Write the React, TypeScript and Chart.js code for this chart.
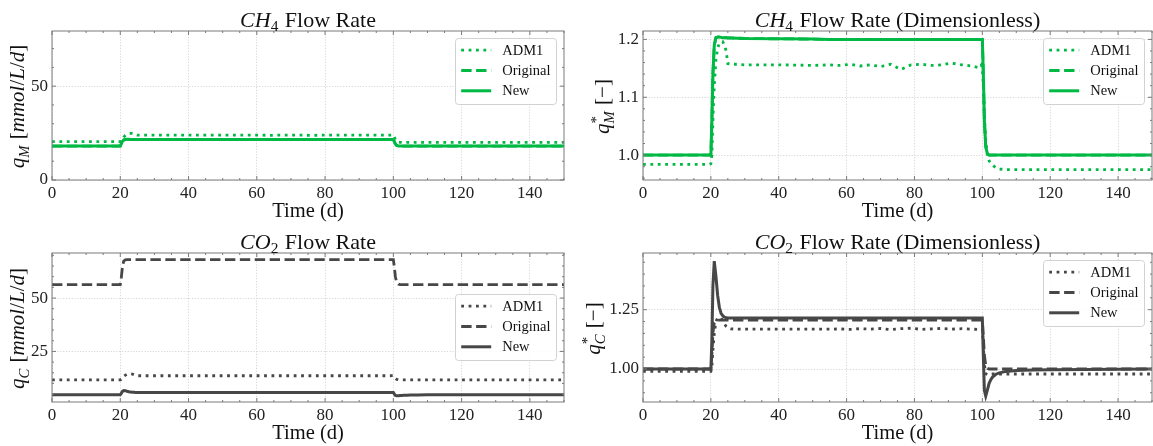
import React, { useEffect, useRef } from 'react';
import { Chart, registerables } from 'chart.js';

Chart.register(...registerables);

const FONT = "'Liberation Serif', 'Times New Roman', serif";
const GREEN = '#00B945';
const DARK = '#474747';

// time axis (days)
const TIME = [
  0, 10, 19.5, 20,
  20.3, 20.6, 21, 21.5, 22, 22.5, 23, 23.5, 24, 24.5, 25,
  26, 28, 30, 40, 50,
  55, 58, 61, 64, 67, 70, 73, 76, 79, 82, 85, 88, 91, 94, 97,
  99, 99.7, 100, 100.3, 100.6, 101, 101.5, 102, 102.5, 103,
  104, 105, 107, 110, 115, 120, 130, 140, 150,
];

// CH4 flow rate [mmol/L/d]
const ch4Adm1 = [
  20.4, 20.4, 20.4, 20.4,
  20.6, 21.5, 22.8, 23.8, 24.4, 24.7, 24.8, 24.8, 24.6, 24.2, 23.9,
  23.9, 23.9, 23.9, 23.9, 23.9,
  23.9, 23.9, 23.9, 23.8, 23.9, 23.9, 23.9, 23.8, 23.9, 23.9, 23.9, 23.9, 23.9, 23.9, 23.9,
  23.9, 24.0, 24.1, 23.0, 21.6, 20.6, 20.2, 20.1, 20.0, 20.0,
  20.0, 20.0, 20.0, 20.0, 20.0, 20.0, 20.0, 20.0, 20.0,
];
const ch4New = [
  18.1, 18.1, 18.1, 18.1,
  19.2, 20.5, 21.3, 21.6, 21.65, 21.65, 21.6, 21.6, 21.6, 21.6, 21.6,
  21.6, 21.6, 21.6, 21.6, 21.6,
  21.6, 21.6, 21.6, 21.6, 21.6, 21.6, 21.6, 21.6, 21.6, 21.6, 21.6, 21.6, 21.6, 21.6, 21.6,
  21.6, 21.6, 21.6, 20.5, 19.2, 18.4, 18.15, 18.1, 18.1, 18.1,
  18.1, 18.1, 18.1, 18.1, 18.1, 18.1, 18.1, 18.1, 18.1,
];
const ch4Original = [
  18.1, 18.1, 18.1, 18.1,
  19.2, 20.5, 21.3, 21.6, 21.65, 21.65, 21.6, 21.6, 21.6, 21.6, 21.6,
  21.6, 21.6, 21.6, 21.6, 21.6,
  21.6, 21.6, 21.6, 21.6, 21.6, 21.6, 21.6, 21.6, 21.6, 21.6, 21.6, 21.6, 21.6, 21.6, 21.6,
  21.6, 21.6, 21.6, 20.5, 19.2, 18.4, 18.15, 18.1, 18.1, 18.1,
  18.1, 18.1, 18.1, 18.1, 18.1, 18.1, 18.1, 18.1, 18.1,
];

// CH4 flow rate, dimensionless
const ch4Adm1Dim = [
  0.984, 0.984, 0.984, 0.985,
  1.0, 1.06, 1.12, 1.165, 1.185, 1.193, 1.196, 1.196, 1.19, 1.18, 1.158,
  1.157, 1.157, 1.156, 1.156, 1.155,
  1.156, 1.155, 1.157, 1.154, 1.156, 1.153, 1.157, 1.148, 1.156, 1.157, 1.155, 1.156, 1.159, 1.156, 1.154,
  1.151, 1.156, 1.15, 1.12, 1.07, 1.025, 1.0, 0.99, 0.986, 0.983,
  0.978, 0.976, 0.975, 0.975, 0.975, 0.975, 0.975, 0.975, 0.975,
];
const ch4NewDim = [
  1.0, 1.0, 1.0, 1.0,
  1.06, 1.14, 1.19, 1.203, 1.204, 1.204, 1.2035, 1.203, 1.203, 1.203, 1.2025,
  1.2025, 1.202, 1.2015, 1.201, 1.2005,
  1.2, 1.2, 1.2, 1.2, 1.2, 1.2, 1.2, 1.2, 1.2, 1.2, 1.2, 1.2, 1.2, 1.2, 1.2,
  1.2, 1.2, 1.2, 1.14, 1.06, 1.015, 1.002, 1.0, 1.0, 1.0,
  1.0, 1.0, 1.0, 1.0, 1.0, 1.0, 1.0, 1.0, 1.0,
];
const ch4OriginalDim = [
  1.0, 1.0, 1.0, 1.0,
  1.06, 1.14, 1.19, 1.203, 1.204, 1.204, 1.2035, 1.203, 1.203, 1.203, 1.2025,
  1.2025, 1.202, 1.2015, 1.201, 1.2005,
  1.2, 1.2, 1.2, 1.2, 1.2, 1.2, 1.2, 1.2, 1.2, 1.2, 1.2, 1.2, 1.2, 1.2, 1.2,
  1.2, 1.2, 1.2, 1.14, 1.06, 1.015, 1.002, 1.0, 1.0, 1.0,
  1.0, 1.0, 1.0, 1.0, 1.0, 1.0, 1.0, 1.0, 1.0,
];

// CO2 flow rate [mmol/L/d]
const co2Adm1 = [
  11.7, 11.7, 11.7, 11.7,
  11.9, 12.5, 13.3, 13.9, 14.3, 14.5, 14.5, 14.4, 14.1, 13.8, 13.6,
  13.6, 13.6, 13.6, 13.6, 13.6,
  13.6, 13.6, 13.6, 13.6, 13.6, 13.6, 13.6, 13.6, 13.6, 13.6, 13.6, 13.6, 13.6, 13.6, 13.6,
  13.6, 13.7, 13.7, 13.0, 12.4, 11.9, 11.7, 11.7, 11.7, 11.7,
  11.7, 11.7, 11.7, 11.7, 11.7, 11.7, 11.7, 11.7, 11.7,
];
const co2Original = [
  56.3, 56.3, 56.3, 56.3,
  59.5, 64.0, 67.3, 67.9, 68.0, 68.0, 68.0, 68.0, 68.0, 68.0, 68.0,
  68.0, 68.0, 68.0, 68.0, 68.0,
  68.0, 68.0, 68.0, 68.0, 68.0, 68.0, 68.0, 68.0, 68.0, 68.0, 68.0, 68.0, 68.0, 68.0, 68.0,
  68.0, 68.0, 68.0, 64.5, 60.0, 57.2, 56.5, 56.3, 56.3, 56.3,
  56.3, 56.3, 56.3, 56.3, 56.3, 56.3, 56.3, 56.3, 56.3,
];
const co2New = [
  4.7, 4.7, 4.7, 4.7,
  5.3, 6.2, 6.7, 6.6, 6.3, 6.1, 6.0, 5.9, 5.85, 5.8, 5.78,
  5.76, 5.75, 5.75, 5.75, 5.75,
  5.75, 5.75, 5.75, 5.75, 5.75, 5.75, 5.75, 5.75, 5.75, 5.75, 5.75, 5.75, 5.75, 5.75, 5.75,
  5.75, 5.75, 5.75, 5.0, 4.4, 4.2, 4.25, 4.35, 4.4, 4.45,
  4.5, 4.55, 4.6, 4.65, 4.68, 4.7, 4.7, 4.7, 4.7,
];

// CO2 flow rate, dimensionless
const co2Adm1Dim = [
  0.99, 0.99, 0.99, 0.99,
  1.01, 1.08, 1.15, 1.2, 1.215, 1.218, 1.215, 1.205, 1.19, 1.18, 1.172,
  1.169, 1.168, 1.168, 1.168, 1.168,
  1.168, 1.169, 1.167, 1.17, 1.168, 1.171, 1.166, 1.17, 1.172, 1.167, 1.169, 1.171, 1.168, 1.17, 1.168,
  1.167, 1.169, 1.168, 1.1, 1.02, 0.98, 0.976, 0.977, 0.978, 0.979,
  0.979, 0.979, 0.979, 0.979, 0.979, 0.979, 0.979, 0.979, 0.979,
];
const co2OriginalDim = [
  1.0, 1.0, 1.0, 1.0,
  1.06, 1.15, 1.195, 1.204, 1.206, 1.206, 1.206, 1.206, 1.206, 1.206, 1.206,
  1.206, 1.206, 1.206, 1.206, 1.206,
  1.206, 1.206, 1.206, 1.206, 1.206, 1.206, 1.206, 1.206, 1.206, 1.206, 1.206, 1.206, 1.206, 1.206, 1.206,
  1.206, 1.206, 1.206, 1.14, 1.06, 1.015, 1.003, 1.0, 1.0, 1.0,
  1.0, 1.0, 1.0, 1.0, 1.0, 1.0, 1.0, 1.0, 1.0,
];
const co2NewDim = [
  1.0, 1.0, 1.0, 1.0,
  1.12, 1.35, 1.455, 1.39, 1.31, 1.26, 1.235, 1.225, 1.219, 1.216, 1.215,
  1.215, 1.215, 1.215, 1.215, 1.215,
  1.215, 1.215, 1.215, 1.215, 1.215, 1.215, 1.215, 1.215, 1.215, 1.215, 1.215, 1.215, 1.215, 1.215, 1.215,
  1.215, 1.215, 1.215, 1.05, 0.91, 0.886, 0.912, 0.94, 0.955, 0.966,
  0.978, 0.984, 0.99, 0.994, 0.996, 0.997, 0.998, 0.999, 1.0,
];

const SERIES_LABELS = ['ADM1', 'Original', 'New'];
const SERIES_DASH = [[2.8, 4.6], [10.4, 4.5], []];
const SERIES_WIDTH = [2.8, 2.8, 3];

type Seg = { t?: string; it?: boolean; sub?: string; subIt?: boolean; sup?: string };

interface Panel {
  left: number; top: number; w: number; h: number;
  area: { l: number; t: number; r: number; b: number };
  color: string;
  series: number[][];
  yMin: number; yMax: number; yStep: number; yMinor: number; yDec: number;
  title: Seg[]; ylabel: Seg[]; yLabelX: number;
  legend: 'upper' | 'center';
}

const PANELS: Panel[] = [
  {
    left: 0, top: 0, w: 580, h: 224, area: { l: 52, t: 31, r: 564, b: 180 },
    color: GREEN, series: [ch4Adm1, ch4Original, ch4New],
    yMin: 0, yMax: 79.4, yStep: 50, yMinor: 10, yDec: 0,
    title: [{ t: 'CH', it: true }, { sub: '4' }, { t: ' Flow Rate' }],
    ylabel: [{ t: 'q', it: true }, { sub: 'M', subIt: true }, { t: ' [' }, { t: 'mmol', it: true }, { t: '/' }, { t: 'L', it: true }, { t: '/' }, { t: 'd', it: true }, { t: ']' }],
    yLabelX: 24, legend: 'upper',
  },
  {
    left: 580, top: 0, w: 573, h: 224, area: { l: 63, t: 31, r: 572, b: 180 },
    color: GREEN, series: [ch4Adm1Dim, ch4OriginalDim, ch4NewDim],
    yMin: 0.957, yMax: 1.2145, yStep: 0.1, yMinor: 0.02, yDec: 1,
    title: [{ t: 'CH', it: true }, { sub: '4' }, { t: ' Flow Rate (Dimensionless)' }],
    ylabel: [{ t: 'q', it: true }, { sup: '*', sub: 'M', subIt: true }, { t: ' [\u2212]' }],
    yLabelX: 29, legend: 'upper',
  },
  {
    left: 0, top: 224, w: 580, h: 222, area: { l: 52, t: 29, r: 564, b: 178 },
    color: DARK, series: [co2Adm1, co2Original, co2New],
    yMin: 1.3, yMax: 71.1, yStep: 25, yMinor: 5, yDec: 0,
    title: [{ t: 'CO', it: true }, { sub: '2' }, { t: ' Flow Rate' }],
    ylabel: [{ t: 'q', it: true }, { sub: 'C', subIt: true }, { t: ' [' }, { t: 'mmol', it: true }, { t: '/' }, { t: 'L', it: true }, { t: '/' }, { t: 'd', it: true }, { t: ']' }],
    yLabelX: 24, legend: 'center',
  },
  {
    left: 580, top: 224, w: 573, h: 222, area: { l: 63, t: 29, r: 572, b: 178 },
    color: DARK, series: [co2Adm1Dim, co2OriginalDim, co2NewDim],
    yMin: 0.861, yMax: 1.489, yStep: 0.25, yMinor: 0.05, yDec: 2,
    title: [{ t: 'CO', it: true }, { sub: '2' }, { t: ' Flow Rate (Dimensionless)' }],
    ylabel: [{ t: 'q', it: true }, { sup: '*', sub: 'C', subIt: true }, { t: ' [\u2212]' }],
    yLabelX: 20, legend: 'upper',
  },
];

function fontStr(size: number, it?: boolean) {
  return `${it ? 'italic ' : ''}${size}px ${FONT}`;
}

function drawRich(ctx: CanvasRenderingContext2D, segs: Seg[], x: number, y: number, size: number) {
  const small = size * 0.7;
  const widths = segs.map((s) => {
    if (s.t !== undefined) {
      ctx.font = fontStr(size, s.it);
      return ctx.measureText(s.t).width;
    }
    let w = 0;
    if (s.sub) { ctx.font = fontStr(small, s.subIt); w = Math.max(w, ctx.measureText(s.sub).width); }
    if (s.sup) { ctx.font = fontStr(small, false); w = Math.max(w, ctx.measureText(s.sup).width); }
    return w + 1;
  });
  const total = widths.reduce((a, b) => a + b, 0);
  let cx = x - total / 2;
  ctx.textAlign = 'left';
  ctx.textBaseline = 'alphabetic';
  segs.forEach((s, i) => {
    if (s.t !== undefined) {
      ctx.font = fontStr(size, s.it);
      ctx.fillText(s.t, cx, y);
    } else {
      if (s.sub) { ctx.font = fontStr(small, s.subIt); ctx.fillText(s.sub, cx, y + size * 0.22); }
      if (s.sup) { ctx.font = fontStr(small, false); ctx.fillText(s.sup, cx, y - size * 0.36); }
    }
    cx += widths[i];
  });
}

function makeDecor(p: Panel) {
  return {
    id: 'decor',
    afterDraw(chart: any) {
      const { ctx, chartArea: a, scales } = chart;
      const xs = scales.x;
      const ys = scales.y;
      ctx.save();
      // inward ticks (major + minor) on all four sides
      ctx.strokeStyle = '#7a7a7a';
      ctx.lineWidth = 1;
      ctx.setLineDash([]);
      ctx.beginPath();
      for (let v = 0; v <= 150 + 1e-9; v += 5) {
        const px = xs.getPixelForValue(v);
        const len = v % 20 === 0 ? 4 : 2;
        ctx.moveTo(px, a.bottom); ctx.lineTo(px, a.bottom - len);
        ctx.moveTo(px, a.top); ctx.lineTo(px, a.top + len);
      }
      const startY = Math.ceil(p.yMin / p.yMinor - 1e-9) * p.yMinor;
      for (let v = startY; v <= p.yMax + 1e-9; v += p.yMinor) {
        const py = ys.getPixelForValue(v);
        const ratio = v / p.yStep;
        const major = Math.abs(ratio - Math.round(ratio)) < 1e-6;
        const len = major ? 4 : 2;
        ctx.moveTo(a.left, py); ctx.lineTo(a.left + len, py);
        ctx.moveTo(a.right, py); ctx.lineTo(a.right - len, py);
      }
      ctx.stroke();
      // frame
      ctx.strokeRect(a.left, a.top, a.right - a.left, a.bottom - a.top);

      // titles
      ctx.fillStyle = '#111';
      drawRich(ctx, p.title, (a.left + a.right) / 2, a.top - 4.5, 22);
      drawRich(ctx, [{ t: 'Time (d)' }], (a.left + a.right) / 2, a.bottom + 36.5, 20.5);
      ctx.save();
      ctx.translate(p.yLabelX, (a.top + a.bottom) / 2 + 1);
      ctx.rotate(-Math.PI / 2);
      drawRich(ctx, p.ylabel, 0, 0, 21);
      ctx.restore();

      // legend
      const ds = chart.data.datasets;
      const bw = 101;
      const bh = 66;
      const bx = a.right - 7.5 - bw;
      const by = p.legend === 'center' ? (a.top + a.bottom) / 2 - bh / 2 : a.top + 7.5;
      ctx.beginPath();
      ctx.roundRect(bx, by, bw, bh, 3);
      ctx.fillStyle = 'rgba(255,255,255,0.85)';
      ctx.fill();
      ctx.strokeStyle = '#d2d2d2';
      ctx.lineWidth = 1;
      ctx.stroke();
      ds.forEach((d: any, i: number) => {
        const cy = by + 11.7 + i * 20.3;
        ctx.beginPath();
        ctx.setLineDash(d.borderDash || []);
        ctx.lineWidth = d.borderWidth;
        ctx.strokeStyle = d.borderColor;
        ctx.lineCap = 'butt';
        ctx.moveTo(bx + 5.7, cy);
        ctx.lineTo(bx + 35.7, cy);
        ctx.stroke();
        ctx.setLineDash([]);
        ctx.font = fontStr(14.5);
        ctx.fillStyle = '#111';
        ctx.textAlign = 'left';
        ctx.textBaseline = 'middle';
        ctx.fillText(d.label, bx + 46.7, cy + 0.5);
      });
      ctx.restore();
    },
  };
}

function buildConfig(p: Panel): any {
  const tickFont = { family: FONT, size: 17 };
  return {
    type: 'line',
    data: {
      datasets: p.series.map((arr, i) => ({
        label: SERIES_LABELS[i],
        data: TIME.map((t, k) => ({ x: t, y: arr[k] })),
        borderColor: p.color,
        backgroundColor: p.color,
        borderWidth: SERIES_WIDTH[i],
        borderDash: SERIES_DASH[i],
        borderCapStyle: 'butt',
        pointRadius: 0,
        tension: 0,
        fill: false,
        order: 2 - i,
      })),
    },
    options: {
      animation: false,
      responsive: false,
      maintainAspectRatio: false,
      devicePixelRatio: 1,
      events: [],
      layout: { padding: { left: 0, top: p.area.t, right: p.w - p.area.r, bottom: 0 } },
      plugins: {
        legend: { display: false },
        title: { display: false },
        tooltip: { enabled: false },
      },
      scales: {
        x: {
          type: 'linear',
          min: 0,
          max: 150,
          ticks: {
            stepSize: 20,
            includeBounds: false,
            autoSkip: false,
            maxRotation: 0,
            font: tickFont,
            color: '#222',
            padding: 3,
            callback: (v: number) => String(Math.round(v)),
          },
          grid: { drawTicks: false, color: '#cdcdcd', lineWidth: 0.8 },
          border: { display: false, dash: [1.2, 1.6] },
          afterFit: (s: any) => { s.height = p.h - p.area.b; },
        },
        y: {
          type: 'linear',
          min: p.yMin,
          max: p.yMax,
          ticks: {
            stepSize: p.yStep,
            includeBounds: false,
            font: tickFont,
            color: '#222',
            padding: 4,
            callback: (v: number) => Number(v).toFixed(p.yDec),
          },
          grid: { drawTicks: false, color: '#cdcdcd', lineWidth: 0.8 },
          border: { display: false, dash: [1.2, 1.6] },
          afterFit: (s: any) => { s.width = p.area.l; },
        },
      },
    },
    plugins: [makeDecor(p)],
  };
}

function PanelChart({ p }: { p: Panel }) {
  const ref = useRef<HTMLCanvasElement>(null);
  useEffect(() => {
    if (!ref.current) return;
    const chart = new Chart(ref.current, buildConfig(p));
    return () => chart.destroy();
  }, [p]);
  return (
    <canvas
      ref={ref}
      width={p.w}
      height={p.h}
      style={{ position: 'absolute', left: p.left, top: p.top, width: p.w, height: p.h }}
    />
  );
}

export default function App() {
  return (
    <div style={{ position: 'absolute', left: 0, top: 0, width: 1153, height: 446, background: '#fff' }}>
      {PANELS.map((p, i) => (
        <PanelChart key={i} p={p} />
      ))}
    </div>
  );
}
